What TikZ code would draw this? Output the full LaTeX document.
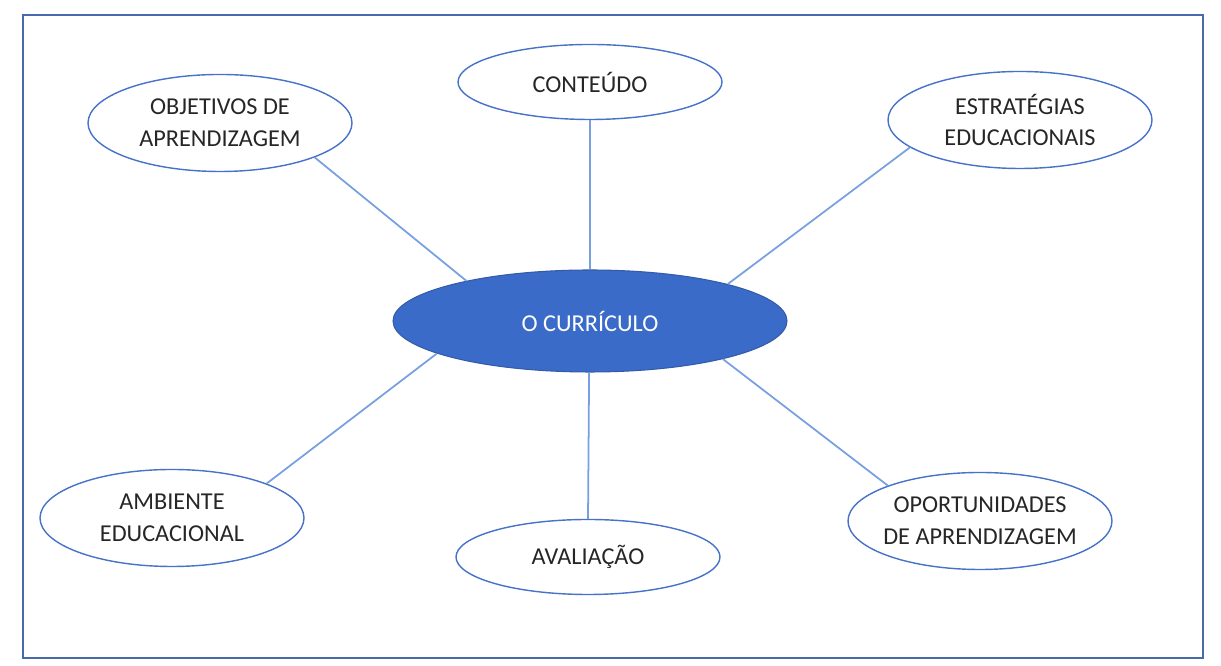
\documentclass[tikz,border=0pt]{standalone}
\usepackage{fontspec}
\setmainfont{Carlito}
\usepackage{tikz}
\usetikzlibrary{shapes.geometric}

\definecolor{framecol}{RGB}{72,106,170}
\definecolor{ringcol}{RGB}{70,114,200}
\definecolor{spokecol}{RGB}{120,160,225}
\definecolor{hubcol}{RGB}{59,107,200}

\begin{document}
\begin{tikzpicture}[
    topic/.style={ellipse, draw=ringcol, line width=0.8pt, inner sep=0pt,
        minimum width=5.28cm, minimum height=1.94cm, align=center,
        text=black!85, font=\fontsize{13.8}{18}\selectfont},
    hub/.style={ellipse, draw=hubcol!85!black, fill=hubcol, line width=0.6pt,
        minimum width=7.88cm, minimum height=2.04cm, text=white,
        font=\fontsize{13.8}{18}\selectfont},
    spoke/.style={draw=spokecol, line width=1pt}
    ]

    \useasboundingbox (0,0) rectangle (24.42,13.32);
    \draw[framecol, line width=1.1pt] (0.46,0.16) rectangle (24.06,13.02);

    % centro
    \node[hub] (curr) at (11.80,6.90) {O CURRÍCULO};

    % temas
    \node[topic, minimum height=1.50cm] (cont) at (11.80,11.68) {CONTEÚDO};
    \node[topic] (obj)   at (4.40,10.86) {OBJETIVOS DE\\APRENDIZAGEM};
    \node[topic] (estr)  at (20.40,10.92) {ESTRATÉGIAS\\EDUCACIONAIS};
    \node[topic] (amb)   at (3.44,2.96) {AMBIENTE\\EDUCACIONAL};
    \node[topic, minimum height=1.50cm] (aval) at (11.76,2.18) {AVALIAÇÃO};
    \node[topic, inner xsep=-0.12cm] (oport) at (19.60,2.90) {OPORTUNIDADES\\DE APRENDIZAGEM};

    % ligações
    \draw[spoke] (curr.north) -- (cont.south);
    \draw[spoke] (curr.162) -- (obj.-20);
    \draw[spoke] (curr.15) -- (estr.-166);
    \draw[spoke] (curr.-168) -- (amb.20);
    \draw[spoke] (curr.-91) -- (aval.north);
    \draw[spoke] (curr.-16) -- (oport.159);

\end{tikzpicture}
\end{document}
